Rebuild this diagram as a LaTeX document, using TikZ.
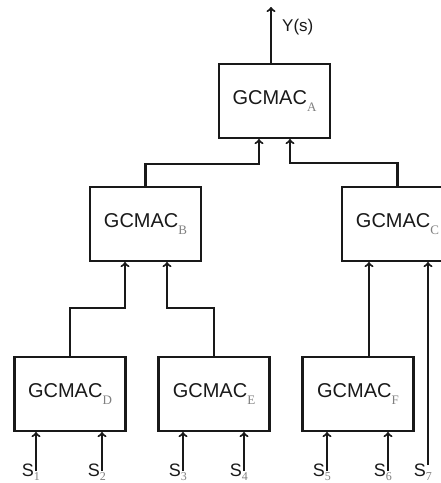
\documentclass[tikz,border=0pt]{standalone}
\usepackage{fontspec}
\setmainfont{Liberation Sans}
\newfontfamily\subfont{Liberation Serif}
\usetikzlibrary{arrows}
\newcommand{\gsub}[1]{\raisebox{-7pt}{\fontsize{13}{13}\selectfont\subfont\color{black!50}#1}}
\newcommand{\ssub}[1]{\raisebox{-4pt}{\fontsize{12}{12}\selectfont\subfont\color{black!50}#1}}
\tikzstyle{gcmac} = [rectangle, minimum width=111pt, minimum height=74pt, text centered, draw=black!90, line width=2.1pt, text=black!90, font=\fontsize{20}{20}\selectfont]
\tikzstyle{arrow} = [line width=2.1pt, draw=black!90, ->, >=to]
\tikzstyle{sig} = [anchor=north east, inner sep=0pt, text=black!90, font=\fontsize{18}{18}\selectfont]

\begin{document}
\begin{tikzpicture}[x=1pt, y=-1pt, node distance=123pt]
    \useasboundingbox (0,0) rectangle (441,483);
    % Nodes
    \node (a) [gcmac] at (274.5,101) {GCMAC\gsub{A}};
    \node (b) [gcmac, below of=a, xshift=-129pt] {GCMAC\gsub{B}};
    \node (c) [gcmac, below of=a, xshift=123pt] {GCMAC\gsub{C}};
    \node (d) [gcmac, below of=b, yshift=-47pt, xshift=-75.5pt] {GCMAC\gsub{D}};
    \node (e) [gcmac, below of=b, yshift=-47pt, xshift=68.5pt] {GCMAC\gsub{E}};
    \node (f) [gcmac, below of=b, yshift=-47pt, xshift=212.5pt] {GCMAC\gsub{F}};
    \coordinate (yout) at (271,7);
    \node (ylab) [anchor=west, inner sep=0pt, text=black!90, font=\fontsize{17}{17}\selectfont] at (282,27) {Y(s)};

    % Arrows
    \draw [arrow] (yout |- a.north) -- (yout);
    \draw [arrow] (b.north) -- ++(0,-22) -| ([xshift=-15.5pt]a.south);
    \draw [arrow] (c.north) -- ++(0,-23) -| ([xshift=15.5pt]a.south);
    \draw [arrow] (d.north) -- ++(0,-48) -| ([xshift=-20.5pt]b.south);
    \draw [arrow] (e.north) -- ++(0,-48) -| ([xshift=21.5pt]b.south);
    \draw [arrow] ([xshift=11pt]f.north) -- ([xshift=11pt]f.north |- c.south);
    \foreach \n/\x in {1/36,2/102,3/183,4/244,5/327,6/388} {
        \coordinate (s\n) at (\x,471);
        \draw [arrow] (s\n) -- (s\n |- d.south);
        \node (slab\n) [sig] at ([xshift=4pt,yshift=7pt]s\n) {S\ssub{\n}};
    }
    \coordinate (s7) at (428,465);
    \draw [arrow] (s7) -- (s7 |- c.south);
    \node (slab7) [sig] at ([xshift=4pt,yshift=1pt]s7) {S\ssub{7}};
\end{tikzpicture}
\end{document}
